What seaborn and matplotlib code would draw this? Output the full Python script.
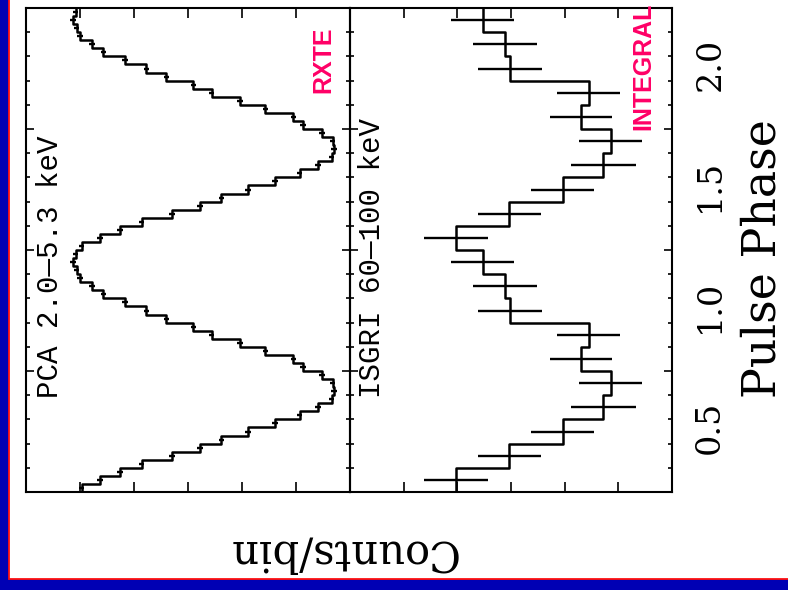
import numpy as np
import pandas as pd
import seaborn as sns
import matplotlib.pyplot as plt
import matplotlib.transforms as mtransforms
from matplotlib.patches import Rectangle

# Pulse profiles, one cycle each (plotted twice over phase 0-2).
# Counts are in arbitrary units (counts grow to the left).
pca_counts = [4.97, 4.63, 4.26, 3.86, 3.30, 2.78, 2.38, 1.89, 1.39, 0.93,
              0.59, 0.34, 0.30, 0.32, 0.52, 0.87, 1.05, 1.57, 2.04, 2.56,
              2.90, 3.40, 3.77, 4.17, 4.57, 4.78, 5.00, 5.06, 5.13, 5.08]
pca_err = 0.05

isgri_counts = [4.03, 3.03, 2.04, 1.28, 1.14, 1.69, 1.55, 3.02, 3.11, 3.53]
isgri_err = [0.60, 0.59, 0.59, 0.61, 0.59, 0.58, 0.59, 0.59, 0.59, 0.59]

phase_ticks = [0.5, 1.0, 1.5, 2.0]
phase_labels = ['0.5', '1.0', '1.5', '2.0']
pca_ticks = [1, 2, 3, 4, 5]
isgri_ticks = [1, 2, 3, 4, 5]

pca_label = 'PCA 2.0\u20145.3 keV'
isgri_label = 'ISGRI 60\u2014100 keV'


def profile_frame(counts, err):
    n = len(counts)
    edges = np.linspace(0, 2, 2 * n + 1)
    df = pd.DataFrame({
        'phase': (edges[:-1] + edges[1:]) / 2,
        'counts': np.tile(counts, 2),
        'err': np.tile(err, 2) if np.ndim(err) else err,
    })
    return df, 1.0 / n


sns.set_style('ticks')
plt.rcParams['font.family'] = ['DejaVu Serif']
plt.rcParams['text.color'] = 'black'

fig = plt.figure(figsize=(7.88, 5.90), dpi=100)
fig.patch.set_facecolor('#0000b4')
# white slide area with thin red border
fig.add_artist(Rectangle((8.5 / 788, 11 / 590), 1.2, 1.2, transform=fig.transFigure,
                         facecolor='white', edgecolor='#ff1010', lw=1.3, zorder=-5))

ax1 = fig.add_axes([26 / 788, 98 / 590, 324 / 788, 484 / 590])
ax2 = fig.add_axes([350 / 788, 98 / 590, 322 / 788, 484 / 590])

pca_df, pca_bw = profile_frame(pca_counts, pca_err)
isgri_df, isgri_bw = profile_frame(isgri_counts, isgri_err)

for ax, df, bw, ticks in [(ax1, pca_df, pca_bw, pca_ticks),
                          (ax2, isgri_df, isgri_bw, isgri_ticks)]:
    sns.histplot(data=df, y='phase', weights='counts', binwidth=bw,
                 binrange=(0, 2), element='step', fill=False,
                 color='black', lw=1.8, ax=ax)
    ax.errorbar(df['counts'], df['phase'], xerr=df['err'], fmt='none',
                ecolor='black', elinewidth=1.7)
    ax.set_facecolor('none')
    ax.set_xlim(6, 0)
    ax.set_ylim(0, 1.99)
    ax.set_xlabel('')
    ax.set_ylabel('')
    ax.set_xticks(ticks)
    ax.set_yticks(phase_ticks)
    ax.set_yticks(np.arange(0.1, 2.0, 0.1), minor=True)
    ax.tick_params(which='both', direction='in', top=True, bottom=True,
                   left=True, right=True, labelbottom=False, labelleft=False,
                   color='black', width=1.2)
    ax.tick_params(axis='x', length=7)
    ax.tick_params(axis='y', which='major', length=6)
    ax.tick_params(axis='y', which='minor', length=3)
    for s in ax.spines.values():
        s.set_linewidth(1.5)
        s.set_color('black')

ax2.set_yticklabels(phase_labels)
ax2.tick_params(axis='y', which='major', labelright=True, labelsize=24,
                pad=16, labelrotation=90, labelcolor='black')
# tick labels sit lower than their ticks in the original figure
shift = mtransforms.ScaledTranslation(0, -0.56, fig.dpi_scale_trans)
for lab in ax2.get_yticklabels():
    lab.set_va('center')
    lab.set_transform(lab.get_transform() + shift)

ax1.text(0.074, 0.194, pca_label, rotation=90, ha='center', va='bottom',
         family='Liberation Mono', fontsize=21, transform=ax1.transAxes)
ax2.text(0.068, 0.194, isgri_label, rotation=90, ha='center', va='bottom',
         family='Liberation Mono', fontsize=21, transform=ax2.transAxes)

ax1.text(0.917, 0.961, 'RXTE', rotation=90, ha='center', va='top',
         color='#ff0066', fontweight='bold', family='Liberation Sans',
         fontsize=18, transform=ax1.transAxes)
ax2.text(0.91, 1.012, 'INTEGRAL', rotation=90, ha='center', va='top',
         color='#ff0066', fontweight='bold', family='Liberation Sans',
         fontsize=18, transform=ax2.transAxes, clip_on=False)

fig.text(763 / 788, 1 - 398 / 590, 'Pulse Phase', rotation=90,
         ha='center', va='bottom', fontsize=33)
fig.text(342 / 788, 1 - 553 / 590, 'Counts/bin', rotation=180,
         ha='center', va='center', fontsize=30)

fig.savefig('out.png', dpi=100, facecolor=fig.get_facecolor())
